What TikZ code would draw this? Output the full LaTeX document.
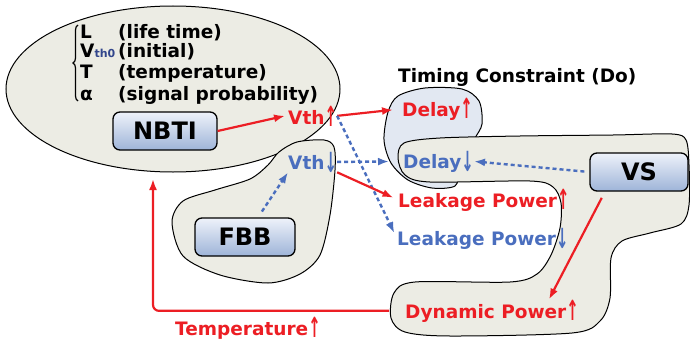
\documentclass[tikz,border=0pt]{standalone}
\usepackage{fontspec}
\setmainfont{DejaVu Sans}
\usetikzlibrary{arrows.meta,decorations.pathreplacing}
\definecolor{hotred}{RGB}{236,30,36}
\definecolor{coolblue}{RGB}{74,110,190}
\definecolor{subblue}{RGB}{50,70,140}
\definecolor{areafill}{RGB}{236,236,228}
\definecolor{delayfill}{RGB}{226,232,242}
\definecolor{boxtop}{RGB}{238,242,250}
\definecolor{boxbot}{RGB}{158,180,216}
\newcommand{\uparr}{\raisebox{-2pt}{\scalebox{0.8}[1.5]{↑}}}
\newcommand{\dnarr}{\raisebox{-3pt}{\scalebox{0.8}[1.5]{↓}}}

\begin{document}
\begin{tikzpicture}[x=1pt, y=-1pt, >={Latex[length=11pt,width=8pt]},
  every node/.style={inner sep=0pt, font=\bfseries\fontsize{18.5}{20}\selectfont},
  blockbox/.style={draw, line width=1.3pt, rounded corners=7pt, top color=boxtop, bottom color=boxbot, minimum height=38pt, font=\bfseries\fontsize{24}{26}\selectfont},
  region/.style={draw, line width=1pt, fill=areafill},
  redarr/.style={->, hotred, line width=2.2pt},
  bluearr/.style={->, coolblue, line width=2.4pt, dash pattern=on 4pt off 3pt}]
\useasboundingbox (0,0) rectangle (690,345);
\draw[region] (173,89) ellipse [x radius=167, y radius=83];
\draw[region] plot[smooth cycle] coordinates {(279,152) (297,142) (324,140) (334,147) (335,170) (330,215) (320,255) (300,274) (268,283) (220,275) (183,256) (172,222) (183,201) (215,190) (250,179) (268,165)};
\draw[region, fill=delayfill] plot[smooth cycle] coordinates {(398,96) (425,88) (462,89) (479,101) (482,124) (474,140) (460,170) (455,186) (432,188) (408,180) (391,163) (384,140) (388,112)};
\draw[region] plot[smooth cycle] coordinates {(398,158) (404,143) (440,138) (520,136) (613,135) (672,134) (686,140) (689,165) (689,205) (681,224) (650,233) (622,241) (611,258) (610,298) (600,321) (572,333) (450,336) (405,332) (391,318) (394,293) (415,282) (510,282) (537,274) (551,255) (560,228) (561,203) (553,187) (530,181) (430,182) (405,175)};

\draw[decorate, decoration={brace, amplitude=5pt}, line width=1.2pt] (78,101) -- (78,25);
\node[anchor=base west] (pl) at (80,38) {L}; \node[anchor=base west] (dl) at (118,38) {(life time)};
\node[anchor=base west] (pv) at (80,57) {V\textcolor{subblue}{\fontsize{11}{12}\selectfont th0}}; \node[anchor=base west] (dv) at (118,57) {(initial)};
\node[anchor=base west] (pt) at (80,78) {T}; \node[anchor=base west] (dt) at (118,78) {(temperature)};
\node[anchor=base west] (pa) at (80,100) {α}; \node[anchor=base west] (da) at (118,100) {(signal probability)};

\node[blockbox, minimum width=104pt] (nbti) at (165,131) {NBTI};
\node[blockbox, minimum width=100pt] (fbb) at (245,237) {FBB};
\node[blockbox, minimum width=98pt] (vs) at (639,172) {VS};

\node[anchor=base west, hotred] (vthup) at (288,124) {Vth\uparr};
\node[anchor=base west, coolblue] (vthdn) at (288,169) {Vth\dnarr};
\node[anchor=base west] (timing) at (398,82) {Timing Constraint (Do)};
\node[anchor=base west, hotred] (dup) at (402,116) {Delay\uparr};
\node[anchor=base west, coolblue] (ddn) at (403,168) {Delay\dnarr};
\node[anchor=base west, hotred] (lup) at (398,207) {Leakage Power\uparr};
\node[anchor=base west, coolblue] (ldn) at (397,245) {Leakage Power\dnarr};
\node[anchor=base west, hotred] (dyn) at (405,318) {Dynamic Power\uparr};
\node[anchor=base west, hotred] (temp) at (175,335) {Temperature\uparr};
\coordinate (loopin) at (153,179);

\draw[redarr] (nbti.east) -- ([xshift=-3pt]vthup.west);
\draw[redarr, shorten >=9pt] (vthup.east) -- (dup.west);
\draw[bluearr, shorten >=6pt] (vthup.east) -- (ldn.west);
\draw[bluearr, shorten >=14pt] (vthdn.east) -- (ddn.west);
\draw[redarr, shorten >=5pt] (vthdn.south east) -- (lup.west);
\draw[bluearr, shorten <=5pt] (vs.west) -- (ddn.east);
\draw[redarr, shorten <=7pt] (vs.210) -- ([xshift=57pt]dyn.north);
\draw[bluearr, shorten <=7pt] ([xshift=13pt]fbb.north) -- (vthdn.south west);
\draw[redarr, rounded corners=6pt] ([xshift=-16pt]dyn.west) -| (loopin);
\end{tikzpicture}
\end{document}
